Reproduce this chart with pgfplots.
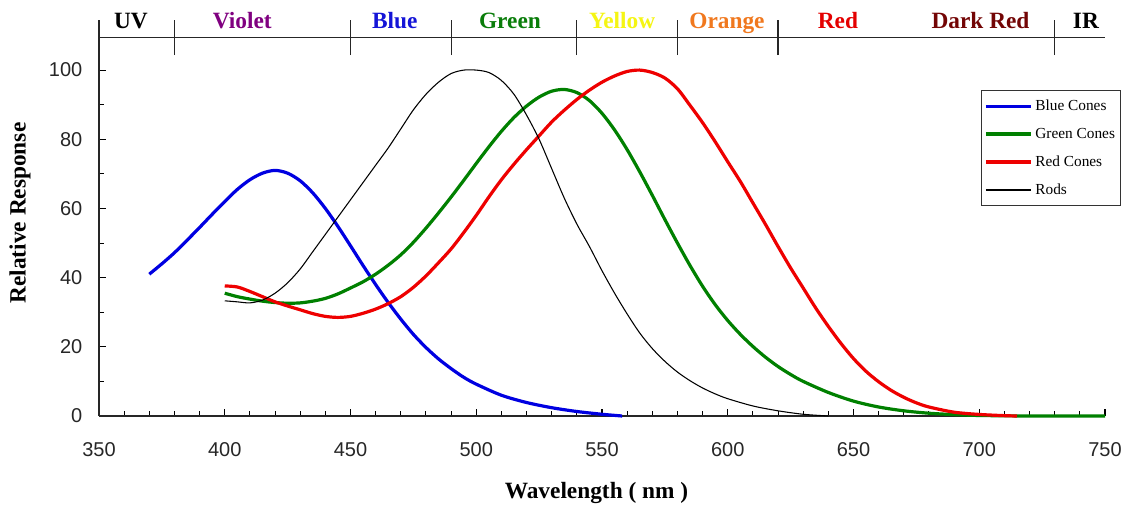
\documentclass[border=0pt]{standalone}
\usepackage{fontspec}
\setmainfont{Liberation Serif}
\newfontfamily\ticksans{Liberation Sans}
\usepackage{pgfplots}
\pgfplotsset{compat=1.18}

\definecolor{cblue}{RGB}{0,0,225}
\definecolor{cgreen}{RGB}{0,128,0}
\definecolor{cred}{RGB}{238,0,0}
\definecolor{tviolet}{RGB}{128,0,128}
\definecolor{tblue}{RGB}{20,20,215}
\definecolor{tgreen}{RGB}{10,125,10}
\definecolor{tyellow}{RGB}{245,245,20}
\definecolor{torange}{RGB}{240,120,30}
\definecolor{tred}{RGB}{228,0,0}
\definecolor{tdred}{RGB}{115,5,5}

\begin{document}
\begin{tikzpicture}
\path[use as bounding box] (-74.25pt,-67.5pt) rectangle (767.25pt,312pt);
\begin{axis}[
  at={(0pt,0pt)}, anchor=south west,
  scale only axis, width=754.5pt, height=297.3pt,
  xmin=350, xmax=750, ymin=0, ymax=114.6,
  axis x line*=bottom, axis y line*=left,
  axis line style={line width=0.9pt, black!85},
  xtick={350,400,...,750}, ytick={0,20,...,100},
  minor x tick num=4, minor y tick num=1,
  tick align=inside,
  major tick length=5.25pt, minor tick length=3.75pt,
  tick style={black, line width=0.8pt},
  /pgf/number format/assume math mode=true,
  ticklabel style={font=\ticksans\fontsize{15}{18}\selectfont, text=black!85},
  xticklabel style={yshift=-16pt},
  yticklabel style={xshift=-9pt},
  xlabel={Wavelength ( nm )},
  ylabel={Relative Response},
  every axis x label/.style={at={(axis description cs:0.4945,-0.194)}, anchor=center, font=\bfseries\fontsize{17.5}{20}\selectfont},
  every axis y label/.style={at={(axis description cs:-0.0785,0.512)}, anchor=center, rotate=90, font=\bfseries\fontsize{17.5}{20}\selectfont},
  clip=false,
  legend style={at={(axis description cs:0.8767,0.8224)}, anchor=north west,
    draw=black!80, line width=0.8pt, fill=white, inner xsep=2pt, inner ysep=5pt,
    font=\fontsize{11.5}{13}\selectfont, row sep=7.6pt},
  legend cell align=left,
  legend image code/.code={\draw[#1] (0pt,0pt) -- (34pt,0pt);},
]
\addplot[cblue, line width=2.4pt, smooth] coordinates {
(370,41) (375,44) (380,47.2) (385,50.8) (390,54.5) (395,58.3) (400,62) (405,65.5)
(410,68.3) (415,70.2) (420,71) (425,70.2) (430,68) (435,64.5) (440,60) (445,54.8)
(450,49.2) (455,43.5) (460,38) (465,32.8) (470,28) (475,23.6) (480,19.8) (485,16.5)
(490,13.7) (495,11.2) (500,9.2) (510,6) (520,3.9) (530,2.4) (540,1.3) (550,0.5) (558,0)
};
\addlegendentry{Blue Cones}
\addplot[cgreen, line width=2.4pt, smooth] coordinates {
(400,35.5) (405,34.5) (410,33.8) (415,33.2) (420,32.8) (425,32.6) (430,32.7) (435,33.2)
(440,34) (445,35.3) (450,37) (455,38.8) (460,41) (465,43.6) (470,46.6) (475,50.2)
(480,54.3) (485,58.7) (490,63.3) (495,68.1) (500,73) (505,77.8) (510,82.3) (515,86.3)
(520,89.6) (525,92.2) (530,93.9) (535,94.4) (540,93.5) (545,91.2) (550,87.5) (555,82.7)
(560,77) (565,70.6) (570,63.8) (575,56.8) (580,50) (585,43.5) (590,37.5) (595,32.2)
(600,27.6) (605,23.6) (610,20.1) (615,17) (620,14.3) (625,12) (630,10) (640,6.8)
(650,4.3) (660,2.6) (670,1.5) (680,0.8) (690,0.4) (700,0.15) (720,0) (750,0)
};
\addlegendentry{Green Cones}
\addplot[cred, line width=2.4pt, smooth] coordinates {
(400,37.6) (405,37.3) (410,36) (415,34.5) (420,33) (425,31.8) (430,30.7) (435,29.6)
(440,28.8) (445,28.5) (450,28.8) (455,29.7) (460,30.9) (465,32.5) (470,34.5) (475,37.2)
(480,40.5) (485,44.3) (490,48.3) (495,53) (500,58) (505,63.3) (510,68.3) (515,72.8)
(520,77) (525,81) (530,85) (535,88.4) (540,91.5) (545,94.2) (550,96.5) (555,98.3)
(560,99.6) (565,100) (570,99.3) (575,97.7) (580,94.6) (585,89.8) (590,84.8) (595,79.3)
(600,73.5) (605,67.8) (610,61.6) (615,55.4) (620,49) (625,42.8) (630,37) (635,31.2)
(640,25.9) (645,21) (650,16.6) (655,12.9) (660,9.9) (665,7.4) (670,5.4) (675,3.8)
(680,2.6) (690,1.1) (700,0.45) (710,0.1) (715,0)
};
\addlegendentry{Red Cones}
\addplot[black, line width=0.8pt, smooth] coordinates {
(400,33.3) (405,33) (410,32.7) (415,33.5) (420,35.5) (425,38.5) (430,42.5) (435,47.5)
(440,52.5) (445,57.5) (450,62.5) (455,67.5) (460,72.5) (465,77.5) (470,83) (475,88.5)
(480,93) (485,96.5) (490,99) (495,100) (500,100) (505,99.3) (510,97) (515,93)
(520,87) (525,80) (530,71.5) (535,63) (540,55.5) (545,49) (550,42) (555,35.5)
(560,29.5) (565,24) (570,19.5) (575,15.8) (580,12.7) (585,10.2) (590,8.1) (595,6.4)
(600,5) (610,2.9) (620,1.5) (630,0.5) (640,0)
};
\addlegendentry{Rods}
% top band
\draw[line width=0.9pt, black!85] (axis cs:350,109.4) -- (axis cs:750,109.4);
\pgfplotsinvokeforeach{380,450,490,540,580,620,730}{
  \draw[line width=0.9pt, black!85] (axis cs:#1,104.3) -- (axis cs:#1,114.6);
}
\begin{scope}[every node/.style={anchor=base, font=\bfseries\fontsize{17.5}{20}\selectfont}]
\node[text=black]   at (axis cs:362.7,112) {UV};
\node[text=tviolet] at (axis cs:407,112) {Violet};
\node[text=tblue]   at (axis cs:467.6,112) {Blue};
\node[text=tgreen]  at (axis cs:513.4,112) {Green};
\node[text=tyellow] at (axis cs:558,112) {Yellow};
\node[text=torange] at (axis cs:599.7,112) {Orange};
\node[text=tred]    at (axis cs:643.8,112) {Red};
\node[text=tdred]   at (axis cs:700.5,112) {Dark Red};
\node[text=black]   at (axis cs:742.4,112) {IR};
\end{scope}
\end{axis}
\end{tikzpicture}
\end{document}
